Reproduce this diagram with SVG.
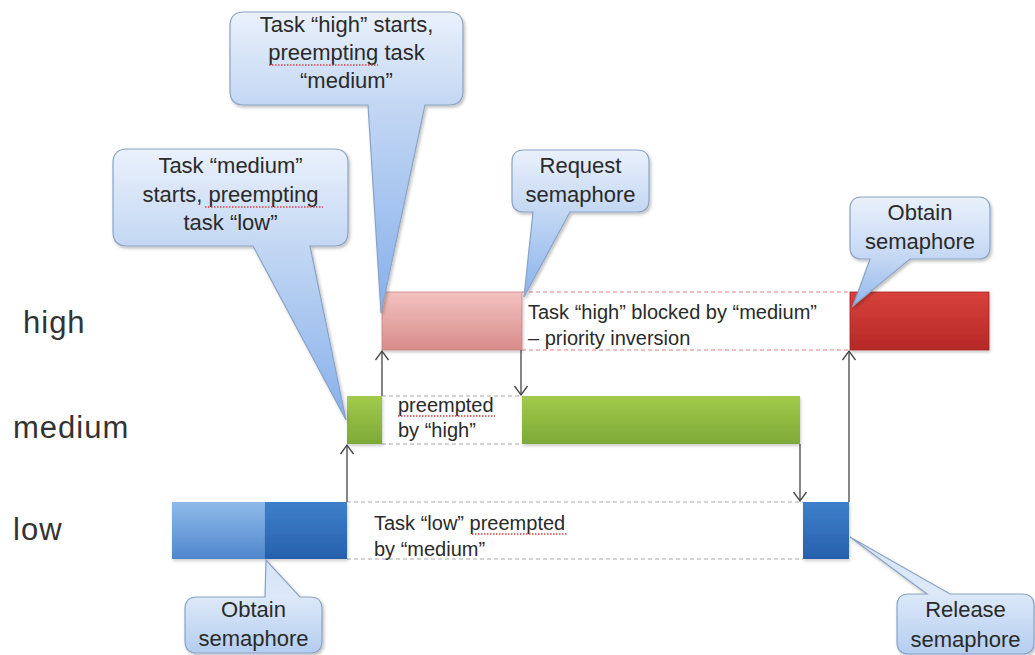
<svg xmlns="http://www.w3.org/2000/svg" width="1035" height="655" viewBox="0 0 1035 655">
<style>
.lbl{font-family:"Liberation Sans",Arial,sans-serif;font-size:31px;fill:#333;letter-spacing:1px}
.body{font-family:"Liberation Sans",Arial,sans-serif;font-size:20px;fill:#2a2a2a}
.ct{font-family:"Liberation Sans",Arial,sans-serif;font-size:22px;fill:#2a2a2a;text-anchor:middle}
.co{stroke:#8aa3c4;stroke-width:1.2;filter:url(#sh)}
.dr{stroke:#e08080;stroke-width:1.2;stroke-dasharray:4 3;fill:none}
.dg{stroke:#aaaaaa;stroke-width:1.2;stroke-dasharray:4 3;fill:none}
.arr{stroke:#444;stroke-width:1.3;fill:none;marker-end:url(#ah)}
.sq{stroke:#d04040;stroke-width:1.3;stroke-dasharray:1.5 1.5;fill:none}
</style>
<defs>
<filter id="sh" x="-10%" y="-10%" width="130%" height="130%"><feDropShadow dx="1.5" dy="2" stdDeviation="1.5" flood-color="#000" flood-opacity="0.25"/></filter>
<filter id="bs" x="-10%" y="-10%" width="130%" height="140%"><feDropShadow dx="1" dy="2" stdDeviation="1.5" flood-color="#000" flood-opacity="0.2"/></filter>
<linearGradient id="gPink" x1="0" y1="0" x2="0" y2="1"><stop offset="0" stop-color="#f3c2c0"/><stop offset="1" stop-color="#d78c8a"/></linearGradient>
<linearGradient id="gRed" x1="0" y1="0" x2="0" y2="1"><stop offset="0" stop-color="#d8423c"/><stop offset="1" stop-color="#b52826"/></linearGradient>
<linearGradient id="gGreen" x1="0" y1="0" x2="0" y2="1"><stop offset="0" stop-color="#a2cb4c"/><stop offset="1" stop-color="#7da936"/></linearGradient>
<linearGradient id="gLBlue" x1="0" y1="0" x2="0" y2="1"><stop offset="0" stop-color="#8fbbea"/><stop offset="1" stop-color="#4f86cc"/></linearGradient>
<linearGradient id="gDBlue" x1="0" y1="0" x2="0" y2="1"><stop offset="0" stop-color="#3e80ca"/><stop offset="1" stop-color="#2660ab"/></linearGradient>
<linearGradient id="c1" gradientUnits="userSpaceOnUse" x1="0" y1="12" x2="0" y2="313"><stop offset="0" stop-color="#eaf1fc"/><stop offset="0.31" stop-color="#c3d7f3"/><stop offset="1" stop-color="#86b0ec"/></linearGradient>
<linearGradient id="c2" gradientUnits="userSpaceOnUse" x1="0" y1="149" x2="0" y2="420"><stop offset="0" stop-color="#eaf1fc"/><stop offset="0.36" stop-color="#c3d7f3"/><stop offset="1" stop-color="#86b0ec"/></linearGradient>
<linearGradient id="c3" gradientUnits="userSpaceOnUse" x1="0" y1="150" x2="0" y2="297"><stop offset="0" stop-color="#eaf1fc"/><stop offset="0.42" stop-color="#c3d7f3"/><stop offset="1" stop-color="#8ab3ec"/></linearGradient>
<linearGradient id="c4" gradientUnits="userSpaceOnUse" x1="0" y1="197" x2="0" y2="306"><stop offset="0" stop-color="#eaf1fc"/><stop offset="0.57" stop-color="#c3d7f3"/><stop offset="1" stop-color="#92b8ec"/></linearGradient>
<linearGradient id="c5" gradientUnits="userSpaceOnUse" x1="0" y1="560" x2="0" y2="653"><stop offset="0" stop-color="#d6e4f7"/><stop offset="0.4" stop-color="#dde9f9"/><stop offset="1" stop-color="#b4cdf0"/></linearGradient>
<linearGradient id="c6" gradientUnits="userSpaceOnUse" x1="0" y1="537" x2="0" y2="654"><stop offset="0" stop-color="#d6e4f7"/><stop offset="0.48" stop-color="#dde9f9"/><stop offset="1" stop-color="#b4cdf0"/></linearGradient>
<marker id="ah" markerUnits="userSpaceOnUse" markerWidth="20" markerHeight="20" viewBox="-10 -10 20 20" refX="0" refY="0" orient="auto" overflow="visible"><path d="M-9,-6.5 L0,0 L-9,6.5" fill="none" stroke="#444" stroke-width="1.3"/></marker>
</defs>
<rect width="1035" height="655" fill="#ffffff"/>

<g id="row-labels">
<text class="lbl" x="23" y="333">high</text>
<text class="lbl" x="13" y="438">medium</text>
<text class="lbl" x="13" y="540">low</text>
</g>

<g id="high-row">
<path class="dr" d="M522,292 H850 M522,350 H850"/>
<rect x="382" y="292" width="140" height="58" fill="url(#gPink)" stroke="#c98584" stroke-width="0.8" filter="url(#bs)"/>
<rect x="850" y="292" width="139" height="58" fill="url(#gRed)" stroke="#a52422" stroke-width="0.8" filter="url(#bs)"/>
<text class="body" x="528" y="319">Task “high” blocked by “medium”</text>
<text class="body" x="528" y="345">– priority  inversion</text>
</g>

<g id="medium-row">
<path class="dg" d="M382,396 H522 M382,444 H522"/>
<rect x="347" y="396" width="35" height="48" fill="url(#gGreen)" filter="url(#bs)"/>
<rect x="522" y="396" width="278" height="48" fill="url(#gGreen)" filter="url(#bs)"/>
<text class="body" x="398" y="412">preempted</text>
<text class="body" x="398" y="437">by “high”</text>
<path class="sq" d="M398,416 H495"/>
</g>

<g id="low-row">
<path class="dg" d="M347,502 H803 M347,559 H803"/>
<rect x="172" y="502" width="93" height="57" fill="url(#gLBlue)" filter="url(#bs)"/>
<rect x="265" y="502" width="82" height="57" fill="url(#gDBlue)" filter="url(#bs)"/>
<rect x="803" y="502" width="46" height="57" fill="url(#gDBlue)" filter="url(#bs)"/>
<text class="body" x="374" y="530">Task “low” preempted</text>
<text class="body" x="374" y="556">by “medium”</text>
<path class="sq" d="M472,534 H568"/>
</g>

<g id="connectors">
<line class="arr" x1="347" y1="502" x2="347" y2="445"/>
<line class="arr" x1="382" y1="396" x2="382" y2="351"/>
<line class="arr" x1="521" y1="350" x2="521" y2="395"/>
<line class="arr" x1="800" y1="444" x2="800" y2="501"/>
<line class="arr" x1="849" y1="502" x2="849" y2="351"/>
</g>

<g id="callout-high-starts">
<path class="co" fill="url(#c1)" d="M244,12 H449 Q463,12 463,26 V91 Q463,105 449,105 H425 L381,313 L368,105 H244 Q230,105 230,91 V26 Q230,12 244,12 Z"/>
<text class="ct" x="346.5" y="32">Task “high” starts,</text>
<text class="ct" x="346.5" y="60">preempting task</text>
<text class="ct" x="346.5" y="88">“medium”</text>
<path class="sq" d="M269,65 H378"/>
</g>

<g id="callout-medium-starts">
<path class="co" fill="url(#c2)" d="M127,149 H334 Q348,149 348,163 V232 Q348,246 334,246 H310 L346,420 L253,246 H127 Q113,246 113,232 V163 Q113,149 127,149 Z"/>
<text class="ct" x="230.5" y="173">Task “medium”</text>
<text class="ct" x="230.5" y="202">starts, preempting</text>
<text class="ct" x="230.5" y="230">task “low”</text>
<path class="sq" d="M205,207 H323"/>
</g>

<g id="callout-request">
<path class="co" fill="url(#c3)" d="M524,150 H637 Q649,150 649,162 V200 Q649,212 637,212 H570 L524,297 L533,212 H524 Q512,212 512,200 V162 Q512,150 524,150 Z"/>
<text class="ct" x="580.5" y="173">Request</text>
<text class="ct" x="580.5" y="202">semaphore</text>
</g>

<g id="callout-obtain-high">
<path class="co" fill="url(#c4)" d="M862,197 H978 Q990,197 990,209 V247 Q990,259 978,259 H910 L853,306 L870,259 H862 Q850,259 850,247 V209 Q850,197 862,197 Z"/>
<text class="ct" x="920" y="220">Obtain</text>
<text class="ct" x="920" y="249">semaphore</text>
</g>

<g id="callout-obtain-low">
<path class="co" fill="url(#c5)" d="M197,597 H265 L266,560 L300,597 H310 Q322,597 322,609 V641 Q322,653 310,653 H197 Q185,653 185,641 V609 Q185,597 197,597 Z"/>
<text class="ct" x="253.5" y="617">Obtain</text>
<text class="ct" x="253.5" y="646">semaphore</text>
</g>

<g id="callout-release">
<path class="co" fill="url(#c6)" d="M909,594 H927 L850,537 L950,594 H1022 Q1034,594 1034,606 V642 Q1034,654 1022,654 H909 Q897,654 897,642 V606 Q897,594 909,594 Z"/>
<text class="ct" x="965.5" y="617">Release</text>
<text class="ct" x="965.5" y="647">semaphore</text>
</g>
</svg>
